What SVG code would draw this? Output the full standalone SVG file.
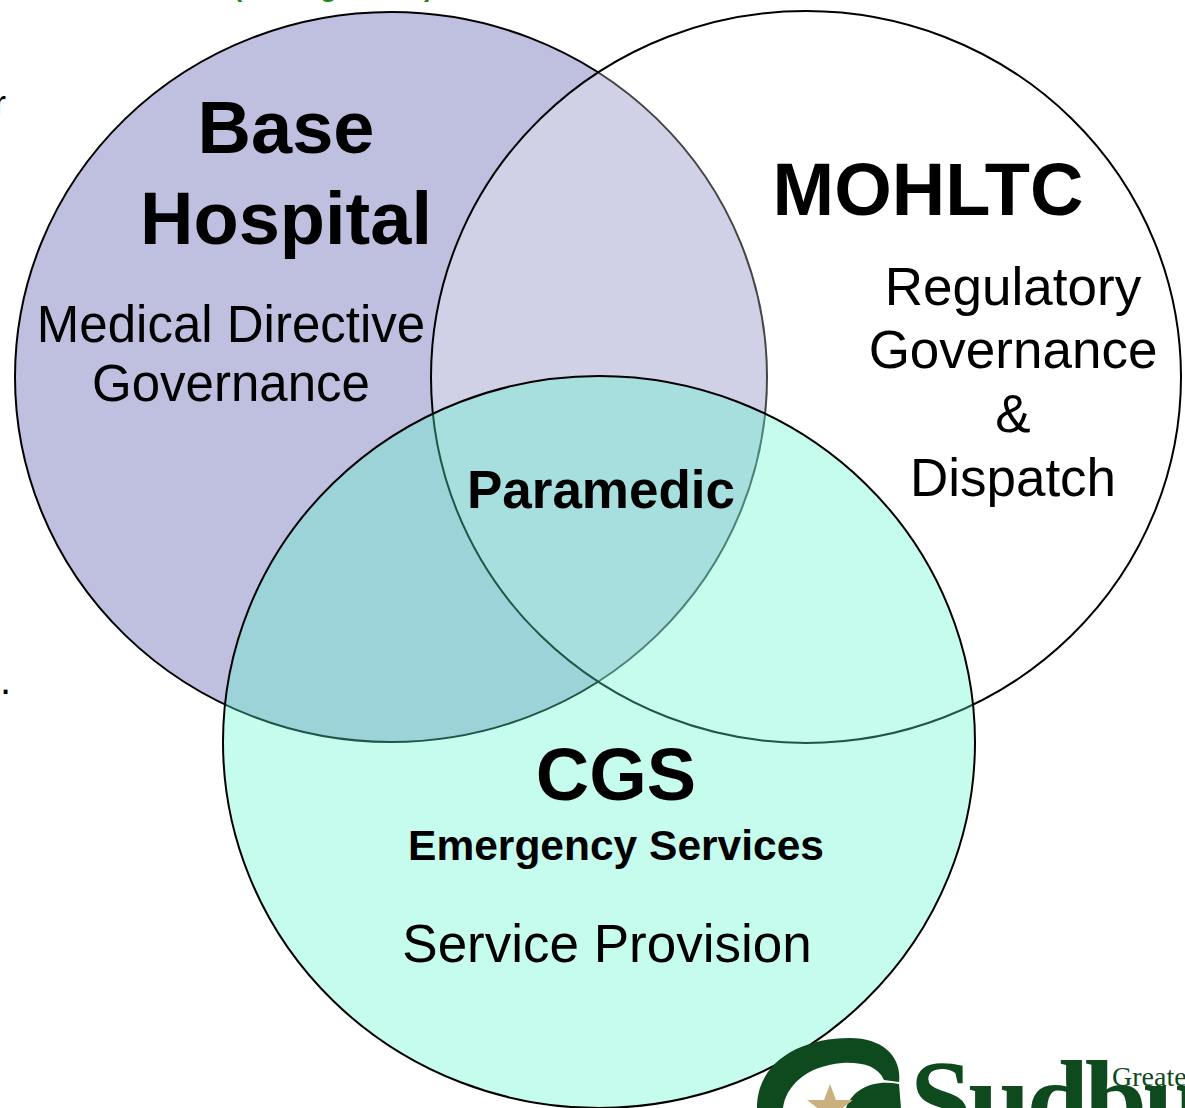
<svg xmlns="http://www.w3.org/2000/svg" width="1185" height="1108" viewBox="0 0 1185 1108">
<style>
.ring{stroke:#000;stroke-width:2}
.title{font-family:"Liberation Sans",Arial,sans-serif;font-weight:bold;font-size:74px;fill:#000;text-anchor:middle}
.body{font-family:"Liberation Sans",Arial,sans-serif;font-size:53px;fill:#000;text-anchor:middle}
.sub{font-family:"Liberation Sans",Arial,sans-serif;font-weight:bold;font-size:42.5px;fill:#000;text-anchor:middle}
.green{font-family:"Liberation Sans",Arial,sans-serif;font-weight:bold;font-size:28px;fill:#1a8a1a}
.edge{font-family:"Liberation Sans",Arial,sans-serif;fill:#000}
.logo{font-family:"Liberation Serif","Times New Roman",serif;fill:#0e4a1e}
</style>
<rect width="1185" height="1108" fill="#fff"/>
<g id="edge-fragments">
<text class="green" x="233" y="-4">(</text>
<text class="green" x="320" y="-4">g</text>
<text class="green" x="424" y="-4">)</text>
<text class="edge" x="-6" y="116" style="font-size:36px">r</text>
<text class="edge" x="0" y="694" style="font-size:40px">.</text>
</g>
<g id="circles">
<ellipse id="circle-base-hospital" class="ring" cx="391" cy="377" rx="376" ry="365" fill="#bfc0df"/>
<ellipse id="circle-mohltc" class="ring" cx="806" cy="377" rx="375" ry="366" fill="#fff" fill-opacity="0.27"/>
<ellipse id="circle-cgs" class="ring" cx="599" cy="742" rx="376" ry="366" fill="#5cf6ce" fill-opacity="0.35"/>
</g>
<g id="node-base-hospital">
<text class="title" x="286" y="153">Base</text>
<text class="title" x="286" y="244">Hospital</text>
<text class="body" x="231" y="342" style="font-size:51px">Medical Directive</text>
<text class="body" x="231" y="401" style="font-size:51px">Governance</text>
</g>
<g id="node-mohltc">
<text class="title" x="928" y="215">MOHLTC</text>
<text class="body" x="1013" y="305">Regulatory</text>
<text class="body" x="1013" y="368">Governance</text>
<text class="body" x="1013" y="432">&amp;</text>
<text class="body" x="1013" y="496">Dispatch</text>
</g>
<g id="node-paramedic">
<text class="title" x="601" y="508" style="font-size:53px">Paramedic</text>
</g>
<g id="node-cgs">
<text class="title" x="616" y="800">CGS</text>
<text class="sub" x="616" y="860">Emergency Services</text>
<text class="body" x="607" y="962">Service Provision</text>
</g>
<g id="logo">
<path d="M757 1108 C757 1062 800 1038 850 1038 C884 1038 902 1058 899 1082 L884 1080 C878 1066 862 1062 842 1063 C806 1066 786 1086 783 1108 Z" fill="#0e4a1e"/>
<path d="M846 1108 C852 1090 872 1079 899 1084 L901 1108 Z" fill="#0e4a1e"/>
<polygon points="830,1084 836,1100 853,1100 840,1110 845,1126 830,1116 815,1126 820,1110 807,1100 824,1100" fill="#c9b07e"/>
<text class="logo" x="910" y="1138" letter-spacing="-4" style="font-size:112px;font-weight:bold">Sudbury</text>
<text class="logo" x="1112" y="1086" style="font-size:28px">Greater</text>
</g>
</svg>
